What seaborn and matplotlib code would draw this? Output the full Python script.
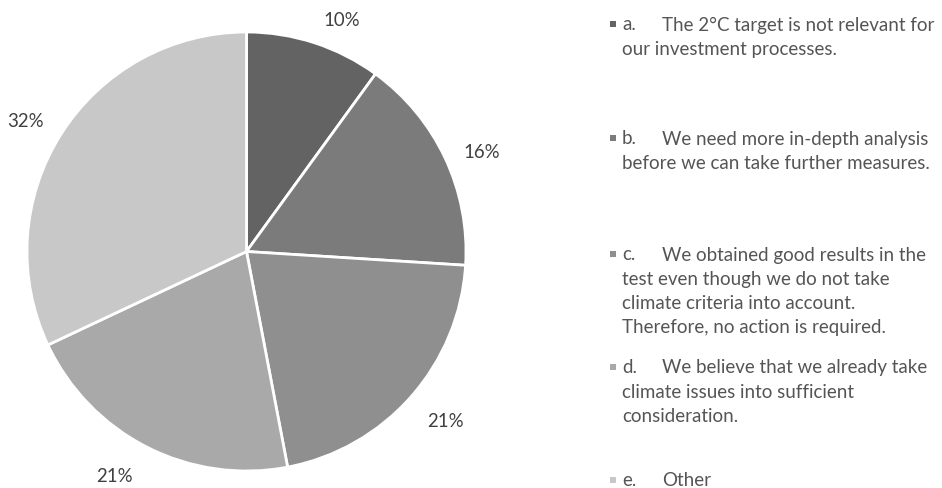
import matplotlib
matplotlib.use("Agg")
import matplotlib.pyplot as plt
from matplotlib.patches import Rectangle
import numpy as np
import seaborn as sns

# Survey answers (share of respondents, %)
letters = ["a.", "b.", "c.", "d.", "e."]
answers = [
    ["The 2°C target is not relevant for", "our investment processes."],
    ["We need more in-depth analysis", "before we can take further measures."],
    ["We obtained good results in the", "test even though we do not take",
     "climate criteria into account.", "Therefore, no action is required."],
    ["We believe that we already take", "climate issues into sufficient",
     "consideration."],
    ["Other"],
]
shares = [10, 16, 21, 21, 32]
slice_colors = ["#636363", "#7b7b7b", "#8f8f8f", "#a9a9a9", "#c8c8c8"]

sns.set_theme(style="white")
plt.rcParams["font.family"] = ["Lato", "DejaVu Sans"]

W, H = 942, 489
fig = plt.figure(figsize=(W / 100, H / 100), dpi=100)
fig.patch.set_facecolor("white")

# pie placement in pixels
cx, cy, R = 246.5, 252.5, 219.5
ax = fig.add_axes([(cx - R) / W, (H - cy - R) / H, 2 * R / W, 2 * R / H])

palette = sns.color_palette(slice_colors)
wedges, texts, autotexts = ax.pie(
    shares,
    colors=palette,
    startangle=90,
    counterclock=False,
    autopct="%.0f%%",
    pctdistance=1.17,
    wedgeprops=dict(edgecolor="white", linewidth=2),
)

# best-fit style label placement: radial factor and clockwise angle nudge
label_radius = [1.142, 1.166, 1.188, 1.184, 1.172]
label_nudge = [4.3, 2.1, -1.0, 3.4, -1.8]
for w, t, rf, nd in zip(wedges, autotexts, label_radius, label_nudge):
    mid = np.deg2rad((w.theta1 + w.theta2) / 2 - nd)
    t.set_position((rf * np.cos(mid), rf * np.sin(mid)))
    t.set_fontsize(13.4)
    t.set_color("#404040")

ax.set_xlim(-1, 1)
ax.set_ylim(-1, 1)
ax.set_aspect("equal")
ax.axis("off")

# legend drawn as wrapped text blocks
fs = 13.5
first_line_y = [25, 139, 255, 368, 481]
line_step = 24.3
marker_x, letter_x, body_x = 609.5, 622, 662
for i, (letter, lines) in enumerate(zip(letters, answers)):
    y0 = first_line_y[i]
    fig.add_artist(Rectangle((marker_x / W, (H - y0 - 3) / H), 6 / W, 6 / H,
                             transform=fig.transFigure, facecolor=slice_colors[i],
                             edgecolor="none"))
    fig.text(letter_x / W, (H - y0) / H, letter, fontsize=fs, color="#555555",
             va="center", ha="left")
    for j, line in enumerate(lines):
        x = body_x if j == 0 else letter_x
        y = y0 + j * line_step
        fig.text(x / W, (H - y) / H, line, fontsize=fs, color="#555555",
                 va="center", ha="left")

fig.savefig("out.png", dpi=100, facecolor="white")
